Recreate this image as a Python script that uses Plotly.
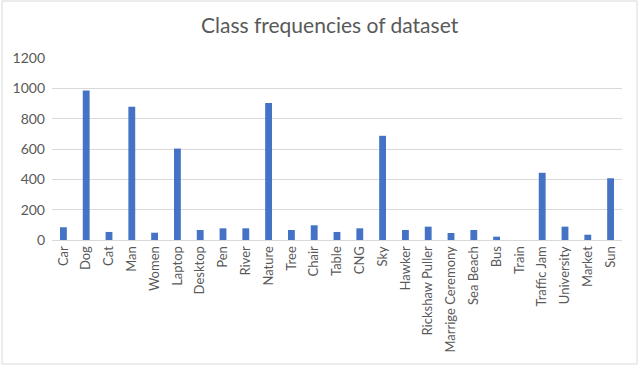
import plotly.graph_objects as go

classes = ['Car', 'Dog', 'Cat', 'Man', 'Women', 'Laptop', 'Desktop', 'Pen', 'River',
           'Nature', 'Tree', 'Chair', 'Table', 'CNG', 'Sky', 'Hawker', 'Rickshaw Puller',
           'Marrige Ceremony', 'Sea Beach', 'Bus', 'Train', 'Traffic Jam', 'University',
           'Market', 'Sun']
counts = [84, 986, 53, 878, 48, 603, 66, 77, 77, 903, 66, 97, 53, 77, 687, 66, 88,
          46, 66, 22, 0, 443, 88, 35, 407]
yticks = [0, 200, 400, 600, 800, 1000, 1200]

grey = '#595959'

fig = go.Figure(go.Bar(x=classes, y=counts, marker_color='#4472C4',
                       marker_line_width=0))

fig.update_layout(
    width=640, height=366,
    margin=dict(l=52, r=18, t=58, b=126),
    paper_bgcolor='white', plot_bgcolor='white',
    bargap=0.7,
    font=dict(family='Lato, Open Sans, sans-serif', color=grey, size=13),
    title=dict(text='Class frequencies of dataset', x=0.515, xanchor='center',
               y=0.93, yanchor='middle', font=dict(size=21, color=grey)),
    showlegend=False,
)
fig.update_xaxes(tickangle=-90, showline=True, linecolor='#d9d9d9',
                 ticks='', tickfont=dict(size=13, color=grey), automargin=False)
fig.update_yaxes(range=[0, 1200], tickvals=yticks, showgrid=True,
                 gridcolor='#d9d9d9', zeroline=False, ticks='',
                 tickfont=dict(size=14, color=grey), automargin=False,
                 ticklabelstandoff=6)

# thin outer frame like the chart area border
fig.add_shape(type='rect', xref='paper', yref='paper',
              x0=(2 - 52) / 570, x1=(637 - 52) / 570,
              y0=(240 - 364) / 182, y1=(240 - 1) / 182,
              line=dict(color='#d9d9d9', width=1))

fig.write_html('out.html', config={'displayModeBar': False},
               post_script="document.body.style.margin='0';")
